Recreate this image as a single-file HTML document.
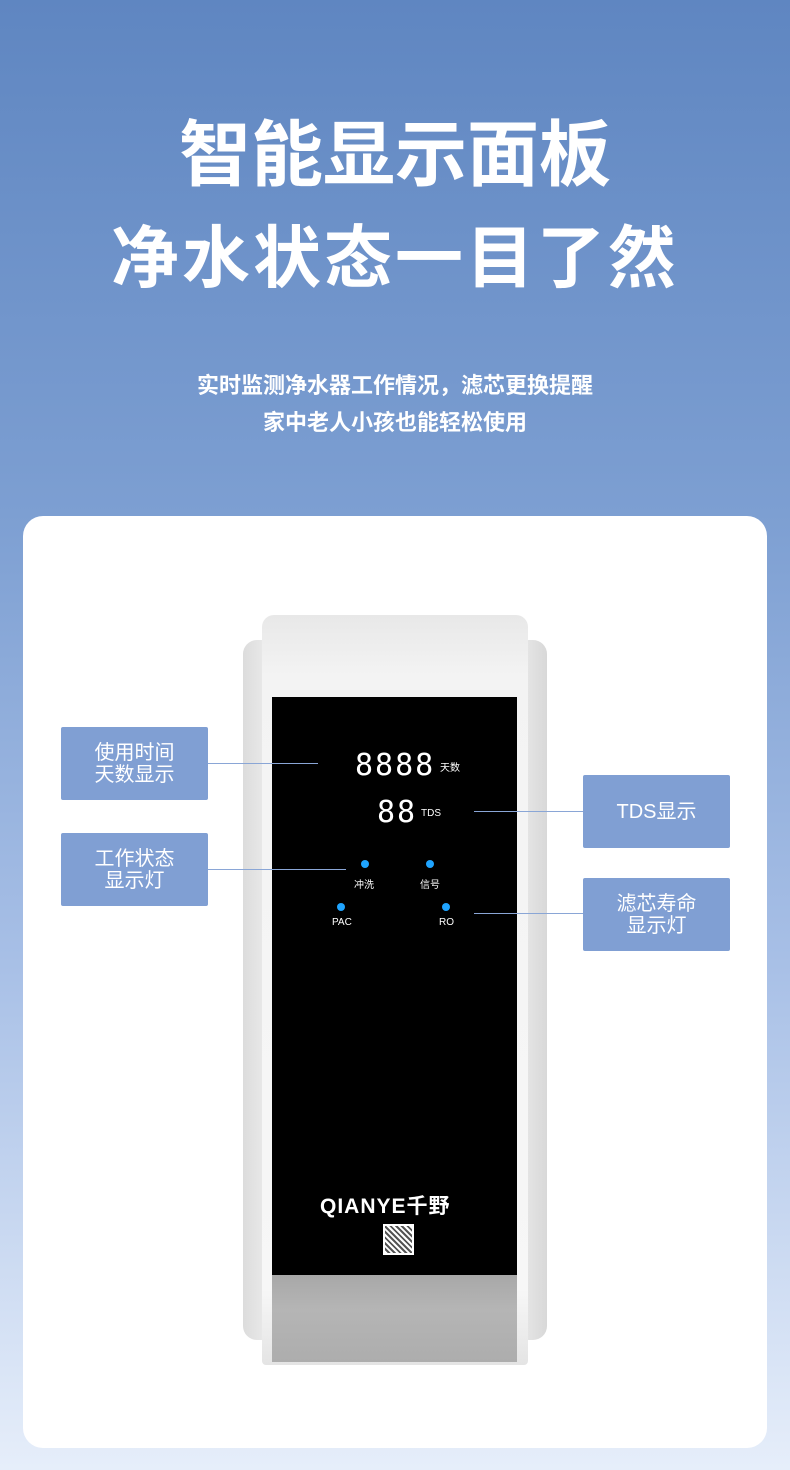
<!DOCTYPE html>
<html><head><meta charset="utf-8"><style>
*{margin:0;padding:0;box-sizing:border-box}
body{width:790px;height:1470px;position:relative;overflow:hidden;font-family:"Liberation Sans","Noto Sans CJK SC",sans-serif;background:linear-gradient(180deg,#5f86c1 0%,#7d9fd2 35%,#a7bfe6 65%,#e6eefa 100%)}
.abs{position:absolute}
.t1{left:0;width:790px;text-align:center;color:#fff;font-weight:bold}
.card{left:23px;top:516px;width:744px;height:932px;background:#fff;border-radius:20px}
.box{background:#809fd3;color:#fff;font-size:20px;line-height:22px;text-align:center;display:flex;align-items:center;justify-content:center;border-radius:2px;width:147px;height:73px}
.ln{height:1px;background:#8aa6d6}
.dot{width:8px;height:8px;border-radius:50%;background:#1fa4ff}
.sm{color:#fff;font-size:10px}
.seg{color:#fff;font-family:"DejaVu Sans Mono",monospace;font-weight:normal;letter-spacing:2px}
</style></head><body>
<div class="abs t1" style="top:96px;font-size:72px;letter-spacing:0">智能显示面板</div>
<div class="abs t1" style="top:203px;font-size:68px;letter-spacing:3px">净水状态一目了然</div>
<div class="abs t1" style="top:368px;font-size:22px">实时监测净水器工作情况，滤芯更换提醒</div>
<div class="abs t1" style="top:405px;font-size:22px">家中老人小孩也能轻松使用</div>
<div class="abs card"></div>
<!-- device -->
<div class="abs" style="left:243px;top:640px;width:304px;height:700px;background:linear-gradient(90deg,#dcdcdc,#f7f7f7 15%,#fff 50%,#f4f4f4 85%,#d8d8d8);border-radius:14px"></div>
<div class="abs" style="left:262px;top:615px;width:266px;height:750px;background:linear-gradient(180deg,#e8e8e8,#f3f3f3 8%,#f7f7f7 90%,#e4e4e4);border-radius:12px 12px 4px 4px"></div>
<div class="abs" style="left:272px;top:697px;width:245px;height:578px;background:#000"></div>
<div class="abs" style="left:272px;top:1275px;width:245px;height:87px;background:linear-gradient(180deg,#a8a8a8,#b5b5b5 40%,#adadad)"></div>
<div class="abs seg" style="left:355px;top:748px;font-size:30px">8888</div>
<div class="abs sm" style="left:440px;top:759px">天数</div>
<div class="abs seg" style="left:377px;top:795px;font-size:30px">88</div>
<div class="abs sm" style="left:421px;top:808px">TDS</div>
<div class="abs dot" style="left:361px;top:860px"></div>
<div class="abs dot" style="left:426px;top:860px"></div>
<div class="abs dot" style="left:337px;top:903px"></div>
<div class="abs dot" style="left:442px;top:903px"></div>
<div class="abs sm" style="left:354px;top:876px">冲洗</div>
<div class="abs sm" style="left:420px;top:876px">信号</div>
<div class="abs sm" style="left:332px;top:917px">PAC</div>
<div class="abs sm" style="left:439px;top:917px">RO</div>
<div class="abs" style="left:320px;top:1190px;color:#fff;font-weight:bold;font-size:21px;letter-spacing:1px">QIANYE千野</div>
<div class="abs" style="left:383px;top:1224px;width:31px;height:31px;background:repeating-linear-gradient(45deg,#fff 0 2px,#555 2px 4px);border:2px solid #fff"></div>
<!-- labels -->
<div class="abs box" style="left:61px;top:727px">使用时间<br>天数显示</div>
<div class="abs box" style="left:61px;top:833px">工作状态<br>显示灯</div>
<div class="abs box" style="left:583px;top:775px">TDS显示</div>
<div class="abs box" style="left:583px;top:878px">滤芯寿命<br>显示灯</div>
<div class="abs ln" style="left:208px;top:763px;width:110px"></div>
<div class="abs ln" style="left:208px;top:869px;width:138px"></div>
<div class="abs ln" style="left:474px;top:811px;width:109px"></div>
<div class="abs ln" style="left:474px;top:913px;width:109px"></div>
</body></html>
